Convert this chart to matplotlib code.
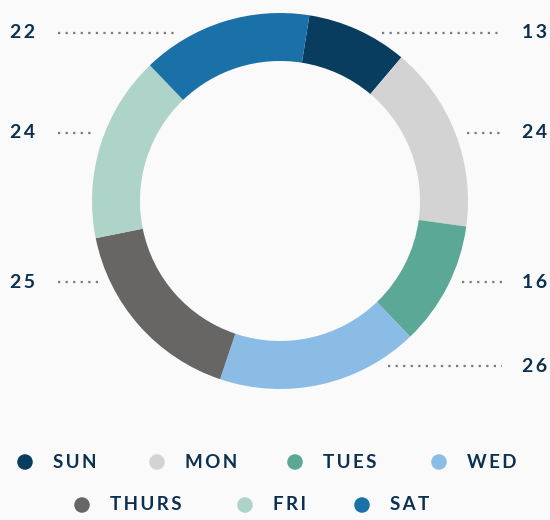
import matplotlib.pyplot as plt

# data
days = ['SUN', 'MON', 'TUES', 'WED', 'THURS', 'FRI', 'SAT']
values = [13, 24, 16, 26, 25, 24, 22]
colors = ['#093d60', '#d3d3d3', '#5aa895', '#8bbce5', '#676665', '#aed3c8', '#1a71a7']

# layout (pixel coords, y measured from top)
W, H = 550, 520
cx, cy, R, ring = 280, 201, 188, 48
# label y, leader x0, leader x1, side
label_pos = [
    (33, 382, 502, 'r'),
    (133, 467, 502, 'r'),
    (282, 462, 502, 'r'),
    (366, 388, 502, 'r'),
    (282, 58, 99, 'l'),
    (133, 58, 92, 'l'),
    (33, 58, 177, 'l'),
]
legend_pos = [(25, 462), (157, 462), (295, 462), (439, 462),
              (82, 505), (245, 505), (362, 505)]

txt_col = '#0c3050'
bg = '#fafafa'
plt.rcParams['font.family'] = ['Lato', 'DejaVu Sans']


def spaced(s):
    return '\u2009'.join(s)


fig = plt.figure(figsize=(W / 100, H / 100), dpi=100, facecolor=bg)
ax = fig.add_axes([0, 0, 1, 1])
ax.set_facecolor(bg)

ax.pie(values, colors=colors, center=(cx, H - cy), radius=R,
       startangle=81, counterclock=False,
       wedgeprops=dict(width=ring, edgecolor='none', linewidth=0))

for v, (y, x0, x1, side) in zip(values, label_pos):
    yy = H - y
    ax.plot([x0, x1], [yy, yy], color='#7a7a7a', lw=1.6,
            linestyle=(0, (1, 2.4)), dash_capstyle='butt')
    if side == 'r':
        ax.text(547, yy, spaced(str(v)), ha='right', va='center',
                fontsize=14, fontweight='bold', color=txt_col)
    else:
        ax.text(10, yy, spaced(str(v)), ha='left', va='center',
                fontsize=14, fontweight='bold', color=txt_col)

for d, c, (x, y) in zip(days, colors, legend_pos):
    ax.scatter([x], [H - y], s=125, color=c, edgecolors='none')
    ax.text(x + 28, H - y, spaced(d), ha='left', va='center',
            fontsize=13.5, fontweight='bold', color=txt_col)

ax.set_xlim(0, W)
ax.set_ylim(0, H)
ax.set_aspect('equal')
ax.axis('off')

plt.savefig('out.png', dpi=100, facecolor=bg)
